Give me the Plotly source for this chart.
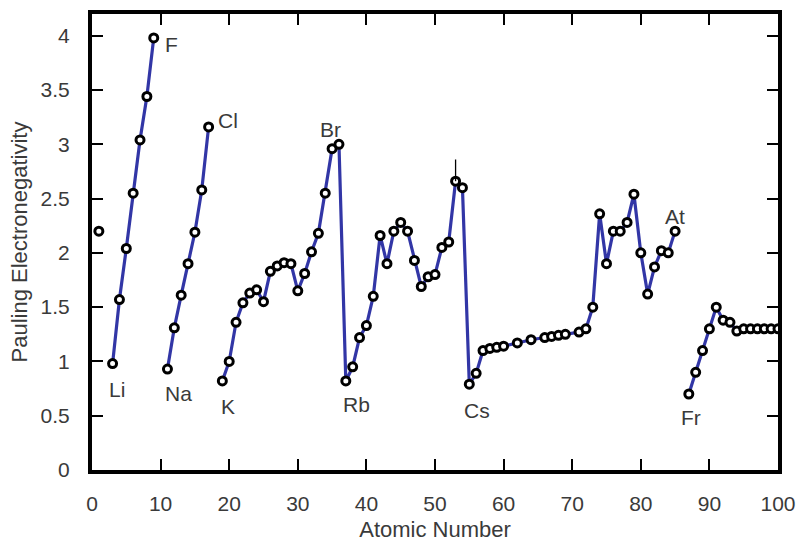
import plotly.graph_objects as go

# Atomic numbers and Pauling electronegativities (elements present in the chart)
Z = [1, 3, 4, 5, 6, 7, 8, 9,
     11, 12, 13, 14, 15, 16, 17,
     19, 20, 21, 22, 23, 24, 25, 26, 27, 28, 29, 30, 31, 32, 33, 34, 35, 36,
     37, 38, 39, 40, 41, 42, 43, 44, 45, 46, 47, 48, 49, 50, 51, 52, 53, 54,
     55, 56, 57, 58, 59, 60, 62, 64, 66, 67, 68, 69, 71, 72, 73, 74, 75, 76,
     77, 78, 79, 80, 81, 82, 83, 84, 85,
     87, 88, 89, 90, 91, 92, 93, 94, 95, 96, 97, 98, 99, 100]
EN = [2.20, 0.98, 1.57, 2.04, 2.55, 3.04, 3.44, 3.98,
      0.93, 1.31, 1.61, 1.90, 2.19, 2.58, 3.16,
      0.82, 1.00, 1.36, 1.54, 1.63, 1.66, 1.55, 1.83, 1.88, 1.91, 1.90, 1.65, 1.81, 2.01, 2.18, 2.55, 2.96, 3.00,
      0.82, 0.95, 1.22, 1.33, 1.60, 2.16, 1.90, 2.20, 2.28, 2.20, 1.93, 1.69, 1.78, 1.80, 2.05, 2.10, 2.66, 2.60,
      0.79, 0.89, 1.10, 1.12, 1.13, 1.14, 1.17, 1.20, 1.22, 1.23, 1.24, 1.25, 1.27, 1.30, 1.50, 2.36, 1.90, 2.20,
      2.20, 2.28, 2.54, 2.00, 1.62, 1.87, 2.02, 2.00, 2.20,
      0.70, 0.90, 1.10, 1.30, 1.50, 1.38, 1.36, 1.28, 1.30, 1.30, 1.30, 1.30, 1.30, 1.30]

# line breaks after these atomic numbers (missing noble gases)
BREAK_AFTER = [1, 9, 17, 85]

# element labels
LABELS = ["F", "Cl", "Br", "At", "Li", "Na", "K", "Rb", "Cs", "Fr"]
LABEL_Z = [9, 17, 35, 85, 3, 11, 19, 37, 55, 87]
LABEL_DX = [18, 19, -2, 0, 4, 11, 6, 11, 8, 2]
LABEL_DY = [-7, 6, 19, 15, -26, -24, -26, -24, -26, -23]

# small vertical mark above iodine
MARK_Z = [53]
MARK_UP = [0.20]

X_TICKS = list(range(0, 101, 10))
Y_TICKS = [0, 0.5, 1, 1.5, 2, 2.5, 3, 3.5, 4]

FONT = "Liberation Sans, Arial, Helvetica, sans-serif"
TXT = "#3a3a3a"

lx, ly = [], []
for z, e in zip(Z, EN):
    lx.append(z)
    ly.append(e)
    if z in BREAK_AFTER:
        lx.append(None)
        ly.append(None)

fig = go.Figure()
fig.add_trace(go.Scatter(x=lx, y=ly, mode="lines",
                         line=dict(color="#3236a6", width=3.2),
                         connectgaps=False, hoverinfo="skip"))
fig.add_trace(go.Scatter(x=Z, y=EN, mode="markers",
                         marker=dict(symbol="circle", size=8, color="white",
                                     line=dict(color="black", width=3))))
mark_y = [EN[Z.index(z)] for z in MARK_Z]
fig.add_trace(go.Scatter(x=MARK_Z, y=mark_y, mode="markers",
                         marker=dict(size=1, color="rgba(0,0,0,0)"),
                         error_y=dict(type="data", array=MARK_UP,
                                      arrayminus=[0] * len(MARK_Z),
                                      color="black", thickness=1.3, width=0)))

for t, z, dx, dy in zip(LABELS, LABEL_Z, LABEL_DX, LABEL_DY):
    fig.add_annotation(x=z, y=EN[Z.index(z)], text=t, showarrow=False,
                       xshift=dx, yshift=dy, xanchor="center", yanchor="middle",
                       font=dict(family=FONT, size=21, color=TXT))

axis_common = dict(showgrid=False, zeroline=False, showline=True,
                   linecolor="black", linewidth=4, mirror="ticks",
                   ticks="inside", ticklen=11, tickwidth=2, tickcolor="black",
                   automargin=False,
                   tickfont=dict(family=FONT, size=21, color=TXT))

fig.update_xaxes(range=[0, 100], tickvals=X_TICKS,
                 ticktext=[str(v) for v in X_TICKS],
                 title=dict(text="Atomic Number",
                            font=dict(family=FONT, size=22, color=TXT),
                            standoff=16),
                 ticklabelstandoff=12, **axis_common)
fig.update_yaxes(range=[0, 4.2], tickvals=Y_TICKS,
                 ticktext=["0", "0.5", "1", "1.5", "2", "2.5", "3", "3.5", "4"],
                 title=dict(text="Pauling Electronegativity",
                            font=dict(family=FONT, size=22, color=TXT),
                            standoff=8),
                 ticklabelstandoff=14, **axis_common)

fig.update_layout(width=801, height=542, showlegend=False,
                  margin=dict(l=92, r=23, t=14, b=72),
                  paper_bgcolor="white", plot_bgcolor="white")

fig.write_html("out.html")
